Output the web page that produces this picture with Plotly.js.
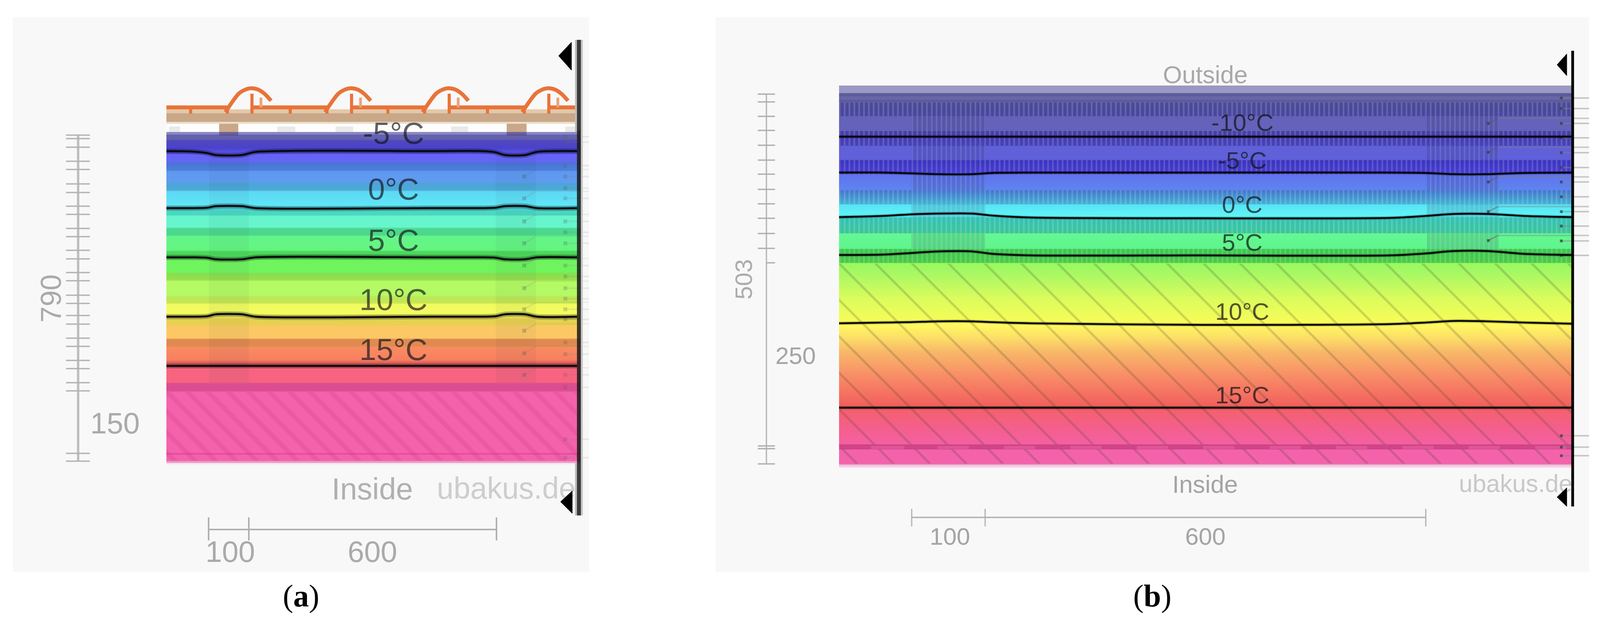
<!DOCTYPE html>
<html><head><meta charset="utf-8">
<script src="https://cdn.plot.ly/plotly-3.0.1.min.js"></script>
<style>html,body{margin:0;padding:0;background:#fff}#chart{width:4111px;height:1598px}</style>
</head><body><div id="chart"></div>
<script>
// ---------- data (axis units = reference pixels) ----------
const wallDepthA = [337,343,345,356,360,378,393,395,413,417,435,439,466,470,486,490,525,533,542,550,553,581,585,601,605,640,644,652,660,667,696,700,716,720,755,760,775,779,803,818,831,835,865,869,885,889,921,928,943,978,982,1000,1004,1159,1160,1163,1165,1179,1181,1184,1186,1189];
const wallColorA = ['#8a87c2','#8a87c2','#6562b0','#625fb0','#5048bc','#4a42cc','#5a55e8','#6664f6','#6466f4','#4c72d8','#4c80dc','#5f98f0','#5f9cf0','#4ca4d6','#4caad8','#5cd8f4','#60e6f6','#50d8e0','#4ad8c0','#4ad8c0','#66f5cc','#66f5cc','#4cd890','#4cd88a','#64f58a','#64f580','#4cd85a','#4cd85a','#50dc58','#70f45e','#70f45e','#84e050','#9ade4c','#b4fa64','#b4fa64','#bce85a','#c8e650','#f0fb60','#f4fc60','#e8d050','#e8d050','#fcc864','#fcc864','#e08a50','#e08a50','#f88c60','#f88060','#e06058','#f86480','#f86480','#dc4c90','#dc4c90','#f462ac','#f462ac','#e4509c','#e4509c','#f462ac','#f462ac','#e69cc4','#e69cc4','#f8e0f0','#f8f0f4'];
const wallDepthB = [225,237,239,245,247,254,256,262,264,296,298,334,336,350,372,374,408,411,440,447,486,488,522,524,553,558,596,598,636,638,672,674,700,767,817,833,867,900,967,1017,1040,1053,1100,1137,1138,1150,1151,1186,1188,1190,1196,1198];
const wallColorB = ['#9a98c4','#9a98c4','#5c5c9c','#5c5c9c','#6866a8','#6866a8','#5c5c9c','#5c5c9c','#50509e','#4c4ca8','#6462b8','#6462bc','#4a46a8','#4842c0','#4c48c0','#6060d8','#6060da','#4038c8','#4a40dc','#5f74f0','#5f84ee','#4880d8','#48c0e0','#58e4f4','#60f4f8','#38d0c0','#40d4a0','#64f894','#60f48c','#40d854','#50d848','#98f860','#a8f864','#dcfc5c','#f4fc58','#fff860','#fcdc68','#f8b868','#f88a66','#f46c60','#f0605c','#f46070','#f45f90','#f460a0','#d04488','#d04488','#f462ac','#f462ac','#dc78b0','#f4b8d8','#f8d8e8','#f8f0f4'];

const isoLabelsA = ['-5°C','0°C','5°C','10°C','15°C'];
const isoLabelYA = [341,484,615,767,895];
const isoXA = [426,490,530,552,620,655,1100,1235,1268,1292,1345,1375,1477];
const isoYA = [
  [387,388,392,397,397,389,387,387,390,397,397,389,387],
  [533,533,532,528,528,533,533,533,532,528,528,533,533],
  [659,659,660,664,664,659,659,659,660,664,664,659,659],
  [811,811,810,805,805,811,811,811,810,805,805,811,811],
  [937,937,937,937,937,937,937,937,937,937,937,937,937]
];
const isoLabelsB = ['-10°C','-5°C','0°C','5°C','10°C','15°C'];
const isoLabelYB = [313,410,523,620,797,1011];
const isoXB = [2148,2260,2333,2400,2490,2540,2640,3080,3560,3650,3720,3810,3900,4024];
const isoYB = [
  [350,350,350,350,350,350,350,350,350,350,350,350,350,350],
  [442,442,444,446,446,443,442,442,442,443,446,446,443,442],
  [556,553,549,547,547,552,557,559,558,553,548,548,553,556],
  [653,652,648,644,644,650,654,654,654,649,643,643,650,653],
  [828,826,825,823,823,825,828,832,830,826,822,823,826,829],
  [1044,1044,1044,1044,1044,1044,1044,1044,1044,1044,1044,1044,1044,1044]
];

const tileCrests = [642,897,1147,1402];
const tileDx = [-65,-31,-15,0,18,35,52];
const tileY = [287,240,230,226,229,240,258];
const battenX = [433,710,859,1155,1447];
const battenW = [28,46,45,43,30];
const rafterA = [[535,637],[1269,1372]];
const rafterB = [[2333,2522],[3653,3837]];
const rafterBlockA = [[561,610],[1297,1348]];

const dimTicksA = [346,355,377,413,434,471,493,528,549,585,606,641,663,698,719,756,777,808,830,866,887,923,944,980,1001,1161,1181];
const dimTicksB = [241,261,298,334,372,410,446,485,522,559,598,636,673,1142,1149,1188];
const hDimA = [534,637,1271];
const hDimB = [2334,2522,3650];

const hatchRowsB = [[262,298],[335,373],[410,447],[487,523],[557,598],[637,673]];
const plainRowsB = [[298,335],[373,410],[447,487],[523,557],[598,637]];
const jointsB = [[2230,2315],[2400,2480],[2570,2650],[2740,2820],[2910,2990],[3080,3160],[3250,3330],[3420,3500],[3590,3670],[3760,3840],[3930,4010]];

const pinsA = [350,364,424,452,482,508,567,595,623,680,708,738,765,792,818,877,907,960,992,1125,1172];
const leadersA = [452,508,567,623,680,738,792,847,905,960];
const pinsB = [251,278,316,353,391,429,466,504,542,579,617,654,1116,1145,1167];
const leadersB = [316,390,466,542,616];

// ---------- helpers ----------
const traces = [];
const sans = 'Liberation Sans, Arial, sans-serif';
function wall(xa, ya, x0, x1, depth, colors){
  const n = depth.length;
  traces.push({type:'heatmap', xaxis:xa, yaxis:ya, x:[x0,(x0+x1)/2,x1], y:depth,
    z:depth.map((d,i)=>[i,i]), zmin:0, zmax:n-1, zsmooth:'best', showscale:false, hoverinfo:'skip',
    colorscale:colors.map((c,i)=>[i/(n-1),c])});
}
function rect(xa, ya, x0, x1, y0, y1, color, pattern){
  const m = {color:color, line:{width:0}};
  if(pattern) m.pattern = pattern;
  traces.push({type:'bar', orientation:'h', xaxis:xa, yaxis:ya, base:[x0], x:[x1-x0], y:[(y0+y1)/2], width:[y1-y0],
    marker:m, hoverinfo:'skip', showlegend:false});
}
function line(xa, ya, x, y, color, width, shape){
  traces.push({type:'scatter', mode:'lines', xaxis:xa, yaxis:ya, x:x, y:y, connectgaps:false,
    line:{color:color, width:width, shape:shape||'linear', smoothing:0.8}, hoverinfo:'skip', showlegend:false});
}
function tri(xa, ya, x, y){
  traces.push({type:'scatter', mode:'lines', xaxis:xa, yaxis:ya, x:x, y:y, fill:'toself', fillcolor:'#000',
    line:{color:'#000', width:1}, hoverinfo:'skip', showlegend:false});
}
function dots(xa, ya, x, y, color, w){
  traces.push({type:'scatter', mode:'markers', xaxis:xa, yaxis:ya, x:x, y:y,
    marker:{symbol:'square', size:w, color:color, line:{width:0}}, hoverinfo:'skip', showlegend:false});
}
function markText(xa, ya, x, y, s, size, color){
  traces.push({type:'scatter', mode:'text', xaxis:xa, yaxis:ya, x:[x], y:[y], text:[s], textposition:'middle center',
    textfont:{family:sans, size:size, color:color}, hoverinfo:'skip', showlegend:false});
}
const annos = [];
function txt(xa, ya, x, y, s, size, color, angle, family){
  annos.push({xref:xa, yref:ya, x:x, y:y, text:s, showarrow:false, xanchor:'center', yanchor:'middle',
    textangle:angle||0, borderpad:0, font:{family:family||sans, size:size, color:color}});
}
function segs(pairs){ const x=[],y=[]; pairs.forEach(p=>{x.push(p[0],p[2],null);y.push(p[1],p[3],null);}); return {x,y}; }

// ---------- panel (a) ----------
const A='x', AY='y', B='x2', BY='y2';
wall(A,AY,426,1486,wallDepthA,wallColorA);
rafterA.forEach(r=>rect(A,AY,r[0],r[1],393,980,'rgba(10,20,50,0.04)'));
rect(A,AY,426,1477,1004,1180,'rgba(0,0,0,0)',{shape:'\\',size:37,solidity:0.32,fgcolor:'rgba(205,50,130,0.20)',bgcolor:'rgba(0,0,0,0)'});
rect(A,AY,426,1477,280,290,'#e3c8a8');
rect(A,AY,426,1477,290,312,'#c8a888');
rect(A,AY,426,1477,312,317,'#ecdcc8');
rect(A,AY,426,1477,317,338,'#fdfdfd');
battenX.forEach((x,i)=>rect(A,AY,x,x+battenW[i],324,338,'#e9e9e9'));
rafterBlockA.forEach(r=>{rect(A,AY,r[0],r[1],317,338,'#c8a888');rect(A,AY,r[0],r[1],338,347,'rgba(70,50,110,0.45)');});
// roof tiles
const tileColor='#e9733a';
const rid=[[426,275,tileCrests[0]-60,275]];
tileCrests.forEach((c,i)=>{rid.push([c+3,275,i<3?tileCrests[i+1]-60:1477,275]);});
let s=segs(rid); line(A,AY,s.x,s.y,tileColor,10);
const stems=[];
tileCrests.forEach(c=>{stems.push([c-154,275,c-154,291],[c-60,272,c-60,291],[c+3,240,c+3,291]);});
s=segs(stems); line(A,AY,s.x,s.y,tileColor,8);
s=segs(tileCrests.map(c=>[c+26,250,c+26,275])); line(A,AY,s.x,s.y,'#eea077',7);
tileCrests.forEach(c=>line(A,AY,tileDx.map(d=>c+d),tileY,tileColor,10,'spline'));
// leader marks
s=segs(pinsA.map(y=>[1447,y,1508,y])); line(A,AY,s.x,s.y,'rgba(130,130,130,0.14)',4);
s=segs(leadersA.map(y=>[1342,y,1372,y-18])); line(A,AY,s.x,s.y,'rgba(110,110,110,0.16)',3);
s=segs(leadersA.map(y=>[1372,y-18,1508,y-18])); line(A,AY,s.x,s.y,'rgba(120,120,120,0.11)',3);
dots(A,AY,leadersA.map(()=>1342),leadersA,'rgba(70,90,90,0.28)',10);
dots(A,AY,pinsA.map(()=>1447),pinsA,'rgba(90,90,90,0.24)',10);
// isotherms
isoYA.forEach(y=>{line(A,AY,isoXA,y,'rgba(0,0,0,0.28)',13,'spline');line(A,AY,isoXA,y,'#07090f',5,'spline');});
// watermark under the marker triangle
markText(A,AY,1296,1258,'ubakus.de',77,'#cdcdcd');
// bar + triangles
line(A,AY,[1474.5,1474.5,null,1474.5,1474.5],[102,338,null,1186,1320],'#bcbcbc',5);
line(A,AY,[1489.5,1489.5],[102,1320],'#c4c4c4',5);
line(A,AY,[1482,1482],[102,1320],'rgba(25,25,25,0.85)',10);
tri(A,AY,[1430,1463,1463,1430],[143,108,180,143]);
tri(A,AY,[1435,1465,1465,1435],[1285,1257,1315,1285]);
// dimension lines
line(A,AY,[200,200],[344,1182],'#bdbdbd',6);
s=segs(dimTicksA.map(y=>[169,y,230,y])); line(A,AY,s.x,s.y,'#b4b4b4',3.5);
line(A,AY,[hDimA[0],hDimA[2]],[1356,1356],'#b0b0b0',4);
s=segs(hDimA.map(x=>[x,1325,x,1384])); line(A,AY,s.x,s.y,'#b0b0b0',4);
isoLabelsA.forEach((t,i)=>txt(A,AY,1007,isoLabelYA[i],t,78,'rgba(20,20,30,0.68)'));
txt(A,AY,953,1252,'Inside',78,'#b0b0b0');
txt(A,AY,589,1412,'100',76,'#aaaaaa');
txt(A,AY,953,1412,'600',76,'#aaaaaa');
txt(A,AY,294,1083,'150',76,'#aaaaaa');
txt(A,AY,130,765,'790',74,'#aaaaaa',-90);
txt(A,AY,770,1526,'(<b>a</b>)',80,'#000','', 'Liberation Serif, Times New Roman, serif');

// ---------- panel (b) ----------
wall(B,BY,2148,4024,wallDepthB,wallColorB);
const insul={shape:'|',size:12.4,solidity:0.34,fgcolor:'rgba(255,255,255,0.16)',bgcolor:'rgba(0,0,50,0.07)'};
const insulCol={shape:'|',size:12.4,solidity:0.34,fgcolor:'rgba(255,255,255,0.12)',bgcolor:'rgba(0,0,60,0.13)'};
hatchRowsB.forEach(r=>rect(B,BY,2148,4022,r[0],r[1],'rgba(0,0,0,0)',insul));
rafterB.forEach(c=>plainRowsB.forEach(r=>rect(B,BY,c[0],c[1],r[0],r[1],'rgba(0,0,0,0)',insulCol)));
const diag={shape:'\\',size:66,solidity:0.09,fgcolor:'rgba(60,60,30,0.20)',bgcolor:'rgba(0,0,0,0)'};
rect(B,BY,2148,4022,675,1138,'rgba(0,0,0,0)',diag);
rect(B,BY,2148,4022,1150,1187,'rgba(0,0,0,0)',diag);
jointsB.forEach(r=>rect(B,BY,r[0],r[1],1142,1150,'rgba(255,130,190,0.30)'));
// leaders
s=segs(pinsB.map(y=>[3997,y,4068,y])); line(B,BY,s.x,s.y,'rgba(130,130,130,0.42)',4);
s=segs(leadersB.map(y=>[3810,y,3835,y-13])); line(B,BY,s.x,s.y,'rgba(90,90,90,0.5)',3);
s=segs(leadersB.map(y=>[3835,y-13,4068,y-13])); line(B,BY,s.x,s.y,'rgba(130,130,130,0.38)',4);
dots(B,BY,leadersB.map(()=>3810),leadersB,'rgba(60,60,60,0.75)',7);
dots(B,BY,pinsB.map(()=>3997),pinsB,'rgba(60,60,60,0.75)',7);
// isotherms
isoYB.forEach(y=>{line(B,BY,isoXB,y,'rgba(0,0,0,0.22)',9,'spline');line(B,BY,isoXB,y,'#050505',4.5,'spline');});
markText(B,BY,3880,1244,'ubakus.de',63,'#c8c8c8');
// bar + triangles
line(B,BY,[4026,4026],[130,1297],'#000',7);
tri(B,BY,[3986,4011,4011,3986],[166,138,194,166]);
tri(B,BY,[3986,4011,4011,3986],[1273,1249,1297,1273]);
// dimension lines
line(B,BY,[1962,1962],[240,1188],'#b8b8b8',3.5);
s=segs(dimTicksB.map(y=>[y===673?1962:1940,y,1984,y])); line(B,BY,s.x,s.y,'#b0b0b0',3.5);
line(B,BY,[hDimB[0],hDimB[2]],[1325,1325],'#b0b0b0',3.5);
s=segs(hDimB.map(x=>[x,1303,x,1348])); line(B,BY,s.x,s.y,'#b0b0b0',3);
isoLabelsB.forEach((t,i)=>txt(B,BY,3180,isoLabelYB[i],t,62,'rgba(20,20,25,0.72)'));
txt(B,BY,3085,191,'Outside',63,'#a8a8a8');
txt(B,BY,3085,1240,'Inside',63,'#a4a4a4');
txt(B,BY,2431,1373,'100',62,'#a4a4a4');
txt(B,BY,3085,1373,'600',62,'#a4a4a4');
txt(B,BY,2036,910,'250',62,'#a4a4a4');
txt(B,BY,1903,716,'503',62,'#acacac',-90);
txt(B,BY,2950,1526,'(<b>b</b>)',80,'#000','', 'Liberation Serif, Times New Roman, serif');

const hidden = r => ({visible:false, range:r, fixedrange:true});
const split = 1660;
const layout = {
  width:4111, height:1598, margin:{l:0,r:0,t:0,b:0,pad:0}, paper_bgcolor:'#fff', plot_bgcolor:'rgba(0,0,0,0)',
  showlegend:false, barmode:'overlay', hovermode:false,
  xaxis:Object.assign(hidden([0,split]),{domain:[0,split/4111],anchor:'y'}),
  yaxis:Object.assign(hidden([1598,0]),{domain:[0,1],anchor:'x'}),
  xaxis2:Object.assign(hidden([split,4111]),{domain:[split/4111,1],anchor:'y2'}),
  yaxis2:Object.assign(hidden([1598,0]),{domain:[0,1],anchor:'x2'}),
  shapes:[
    {type:'rect',xref:'x',yref:'y',x0:33,x1:1508,y0:44,y1:1465,fillcolor:'#f8f8f8',line:{width:0},layer:'below'},
    {type:'rect',xref:'x2',yref:'y2',x0:1832,x1:4068,y0:44,y1:1465,fillcolor:'#f8f8f8',line:{width:0},layer:'below'}
  ],
  annotations:annos
};
Plotly.newPlot('chart',traces,layout,{displayModeBar:false,staticPlot:true});
</script></body></html>
